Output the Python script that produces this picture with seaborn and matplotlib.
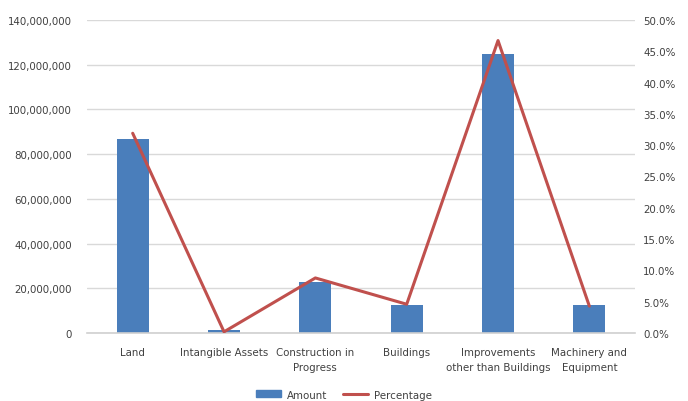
import numpy as np
import pandas as pd
import matplotlib
matplotlib.use("Agg")
import matplotlib.pyplot as plt
import seaborn as sns
from matplotlib.ticker import FuncFormatter, MultipleLocator
from matplotlib.patches import Patch
from matplotlib.lines import Line2D

# data
categories = ["Land", "Intangible Assets", "Construction in\nProgress", "Buildings",
              "Improvements\nother than Buildings", "Machinery and\nEquipment"]
amounts = [86_800_000, 1_200_000, 22_800_000, 12_600_000, 124_800_000, 12_600_000]
percentages = [31.9, 0.2, 8.8, 4.6, 46.7, 4.3]

bar_color = "#4A7EBB"
line_color = "#C0504D"
text_color = "#404040"
fs = 8.2

sns.set_theme(style="white")
plt.rcParams["font.family"] = ["DejaVu Sans"]
plt.rcParams["font.stretch"] = "condensed"

df = pd.DataFrame({"cat": categories, "amount": amounts, "pct": percentages})
df["pos"] = np.arange(len(df))

fig, ax = plt.subplots(figsize=(6.88, 4.02), dpi=100)
fig.subplots_adjust(left=0.1265, right=0.923, top=0.948, bottom=0.169)

sns.barplot(data=df, x="cat", y="amount", color=bar_color, width=0.35,
            saturation=1, linewidth=0, ax=ax)
ax.set_ylim(0, 140_000_000)
ax.yaxis.set_major_locator(MultipleLocator(20_000_000))
ax.yaxis.set_major_formatter(FuncFormatter(lambda v, p: f"{v:,.0f}"))
ax.set_xlim(-0.5, len(df) - 0.5)
ax.set_xlabel("")
ax.set_ylabel("")
ax.grid(axis="y", color="#D9D9D9", linewidth=1)
ax.set_axisbelow(True)
for s in ax.spines.values():
    s.set_visible(False)
ax.spines["bottom"].set_visible(True)
ax.spines["bottom"].set_color("#D0D0D0")
ax.spines["bottom"].set_linewidth(1.2)
ax.tick_params(axis="y", length=0, labelsize=fs, colors=text_color, pad=11)
ax.tick_params(axis="x", length=0, labelsize=fs, colors=text_color, pad=10)
for lbl in ax.get_xticklabels():
    lbl.set_linespacing(1.65)

ax2 = ax.twinx()
sns.lineplot(data=df, x="pos", y="pct", color=line_color, linewidth=2.2, ax=ax2)
ax2.set_ylim(0, 50)
ax2.set_xlim(-0.5, len(df) - 0.5)
ax2.yaxis.set_major_locator(MultipleLocator(5))
ax2.yaxis.set_major_formatter(FuncFormatter(lambda v, p: f"{v:.1f}%"))
ax2.set_xlabel("")
ax2.set_ylabel("")
for s in ax2.spines.values():
    s.set_visible(False)
ax2.tick_params(axis="y", length=0, labelsize=fs, colors=text_color, pad=6)

handles = [Patch(color=bar_color), Line2D([0], [0], color=line_color, linewidth=2.2)]
fig.legend(handles, ["Amount", "Percentage"], loc="lower center",
           bbox_to_anchor=(0.5, -0.022), ncol=2, frameon=False, fontsize=fs,
           labelcolor=text_color, handlelength=2.2, handleheight=0.55,
           columnspacing=1.3, handletextpad=0.6)

fig.savefig("out.png", dpi=100)
